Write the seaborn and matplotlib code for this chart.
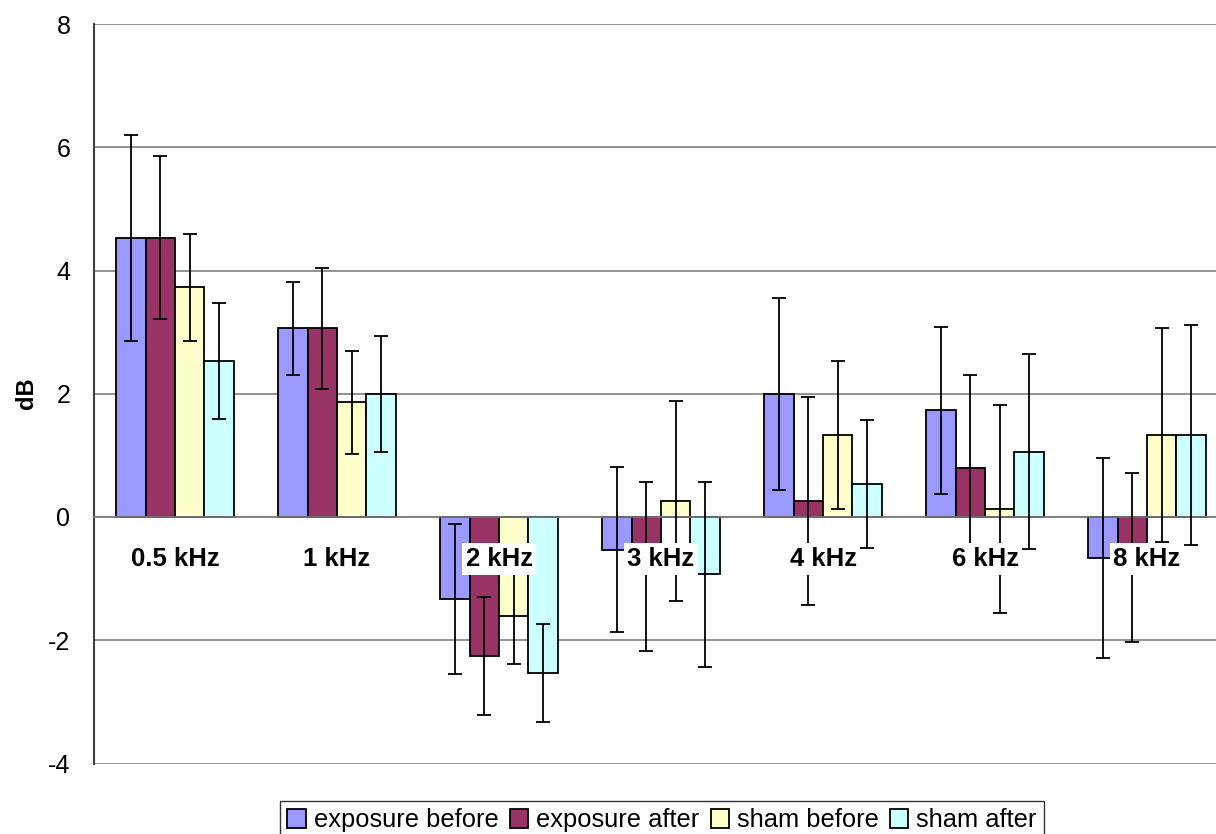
import numpy as np
import pandas as pd
import matplotlib
matplotlib.use("Agg")
import matplotlib.pyplot as plt
from matplotlib.patches import Patch
import seaborn as sns

# ---- data ----
categories = ["0.5 kHz", "1 kHz", "2 kHz", "3 kHz", "4 kHz", "6 kHz", "8 kHz"]
series_names = ["exposure before", "exposure after", "sham before", "sham after"]

exposure_before = [4.53, 3.06, -1.33, -0.53, 2.00, 1.73, -0.66]
exposure_after = [4.53, 3.06, -2.26, -0.80, 0.26, 0.80, -0.66]
sham_before = [3.73, 1.86, -1.60, 0.26, 1.33, 0.13, 1.33]
sham_after = [2.53, 1.99, -2.53, -0.93, 0.53, 1.06, 1.33]

exposure_before_err = [1.67, 0.76, 1.22, 1.34, 1.56, 1.36, 1.62]
exposure_after_err = [1.32, 0.98, 0.96, 1.37, 1.68, 1.51, 1.37]
sham_before_err = [0.87, 0.84, 0.79, 1.63, 1.20, 1.68, 1.74]
sham_after_err = [0.94, 0.94, 0.79, 1.50, 1.04, 1.58, 1.78]

y_ticks = [-4, -2, 0, 2, 4, 6, 8]
y_label = "dB"

colors = ["#9999FF", "#993366", "#FFFFCC", "#CCFFFF"]

values = [exposure_before, exposure_after, sham_before, sham_after]
errors = [exposure_before_err, exposure_after_err, sham_before_err, sham_after_err]

rows = []
for name, vals in zip(series_names, values):
    for cat, v in zip(categories, vals):
        rows.append({"freq": cat, "cond": name, "dB": v})
df = pd.DataFrame(rows)

# ---- style ----
sns.set_style("white")
plt.rcParams["font.family"] = ["Liberation Sans", "DejaVu Sans"]
plt.rcParams["text.color"] = "black"
plt.rcParams["axes.labelcolor"] = "black"
plt.rcParams["xtick.color"] = "black"
plt.rcParams["ytick.color"] = "black"

W, H = 1216, 834
fig = plt.figure(figsize=(W / 100, H / 100), dpi=100)
ax = fig.add_axes([94 / W, (H - 763.5) / H, 1134 / W, 739.5 / H])

sns.barplot(data=df, x="freq", y="dB", hue="cond", order=categories,
            hue_order=series_names, palette=colors, width=0.726,
            edgecolor="black", linewidth=1.3, errorbar=None, ax=ax,
            saturation=1.0)

# error bars at bar centres
for cont, vals, errs in zip(ax.containers, values, errors):
    xs = [p.get_x() + p.get_width() / 2 for p in cont.patches]
    ax.errorbar(xs, vals, yerr=errs, fmt="none", ecolor="black",
                elinewidth=1.3, capsize=5, capthick=1.3, zorder=4)

leg = ax.get_legend()
if leg is not None:
    leg.remove()

ax.set_xlim(-0.5, len(categories) - 0.5)
ax.set_ylim(-4, 8)
ax.set_yticks(y_ticks)
ax.set_yticklabels([str(t) for t in y_ticks], fontsize=18, color="black")
ax.tick_params(axis="y", length=8, width=1.2, color="#404040", pad=9)

ax.set_xticks(np.arange(0.5, len(categories) - 0.5, 1))
ax.set_xticklabels([])
ax.tick_params(axis="x", length=8, width=1.0, color="#808080", direction="out")
ax.set_xlabel("")
ax.set_ylabel("")

ax.spines["bottom"].set_position(("data", 0))
ax.spines["bottom"].set_color("#808080")
ax.spines["bottom"].set_linewidth(1.2)
ax.spines["left"].set_color("#404040")
ax.spines["left"].set_linewidth(1.5)
ax.spines["top"].set_visible(False)
ax.spines["right"].set_visible(False)

ax.yaxis.grid(True, color="#808080", linewidth=1.2)
ax.xaxis.grid(False)
ax.set_axisbelow(True)

# category labels drawn over the bars with white background
for i, cat in enumerate(categories):
    ax.annotate(cat, xy=(i, 0), xytext=(0, -49), textcoords="offset pixels",
                ha="center", va="baseline", fontsize=18.5, fontweight="bold",
                color="black",
                bbox=dict(facecolor="white", edgecolor="none", pad=2.5),
                zorder=10, annotation_clip=False)

fig.text(27 / W, 1 - 393.5 / H, y_label, rotation=90, ha="center",
         va="center", fontsize=17, fontweight="bold", color="black")

handles = [Patch(facecolor=c, edgecolor="black", linewidth=1.3) for c in colors]
fig.legend(handles, series_names, loc="upper center",
           bbox_to_anchor=(662 / W, 1 - 800.7 / H), ncol=4, frameon=True,
           fancybox=False, edgecolor="black", fontsize=18.4,
           handlelength=0.72, handleheight=0.72, handletextpad=0.3,
           columnspacing=0.45, borderpad=0.3, borderaxespad=0)

fig.savefig("out.png", dpi=100)
